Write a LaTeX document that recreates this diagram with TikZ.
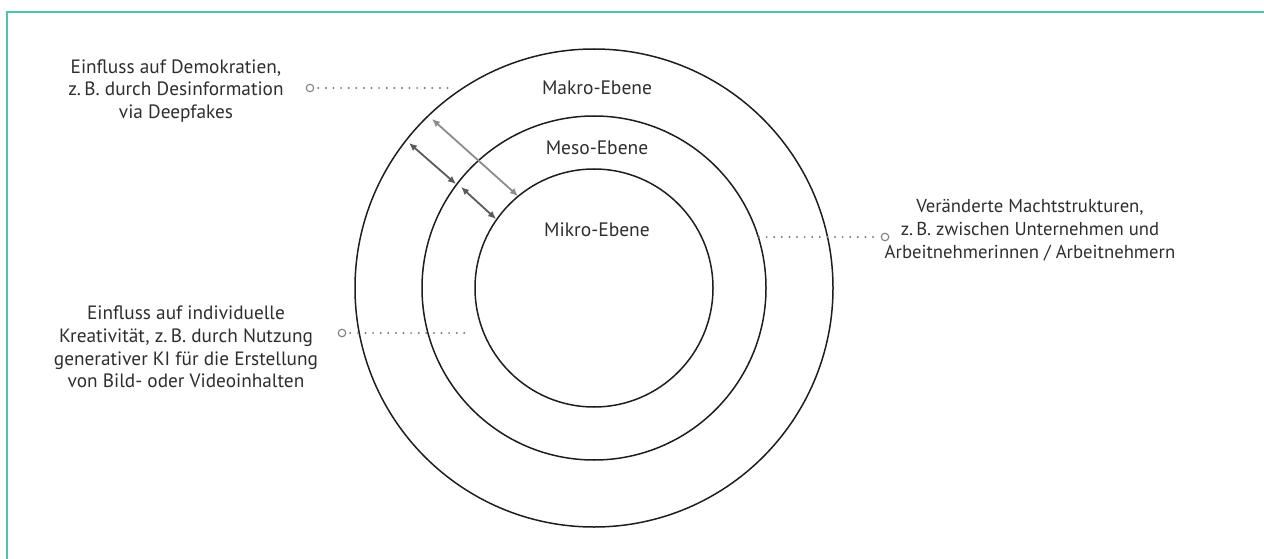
\documentclass[tikz,border=0pt]{standalone}
\usepackage{fontspec}
\setmainfont{PT Sans}
\usetikzlibrary{arrows.meta}
\definecolor{frameteal}{HTML}{4CC4B0}
\definecolor{txt}{HTML}{2E2E2E}
\definecolor{ring}{HTML}{1E1E1E}
\definecolor{lightarr}{HTML}{8C8C8C}
\definecolor{darkarr}{HTML}{5A5A5A}
\definecolor{dotgrey}{HTML}{7E7E7E}
\tikzset{
  ringline/.style={draw=ring, line width=1.5pt},
  lvl/.style={text=txt, font=\fontsize{19.5}{23}\selectfont, inner sep=0pt},
  note/.style={text=txt, align=center, font=\fontsize{19.3}{22.8}\selectfont, inner sep=0pt},
  marker/.style={circle, draw=dotgrey, fill=white, line width=1.1pt, minimum size=7.5pt, inner sep=0pt},
  dots/.style={draw=dotgrey, line width=2.2pt, line cap=round, dash pattern=on 0pt off 7.6pt},
  larr/.style={draw=lightarr, line width=1.8pt, {Latex[length=8pt,width=7pt]}-{Latex[length=8pt,width=7pt]}},
  darr/.style={draw=darkarr, line width=1.8pt, {Latex[length=8pt,width=7pt]}-{Latex[length=8pt,width=7pt]}},
}
\begin{document}
\begin{tikzpicture}[x=1pt,y=-1pt]
\useasboundingbox (0,0) rectangle (1264,559);
% frame (top and left edges visible)
\draw[frameteal, line width=2pt] (7,565) -- (7,12) -- (1270,12);
% rings
\node[ringline, circle, minimum size=478pt, inner sep=0pt] (makro) at (594,288) {};
\node[ringline, circle, minimum size=344pt, inner sep=0pt] (meso) at (594,288) {};
\node[ringline, circle, minimum size=238pt, inner sep=0pt] (mikro) at (594,288) {};
% level labels
\node[lvl] (lmakro) at (597,88) {Makro-Ebene};
\node[lvl] (lmeso) at (597,148) {Meso-Ebene};
\node[lvl] (lmikro) at (597,230) {Mikro-Ebene};
% arrows
\coordinate (a1) at (432,119);
\coordinate (a2) at (518,196);
\coordinate (b1) at (409,143);
\coordinate (b2) at (456,184);
\coordinate (c1) at (461,187);
\coordinate (c2) at (496,219);
\draw[larr] (a1) -- (a2);
\draw[darr] (b1) -- (b2);
\draw[darr] (c1) -- (c2);
% notes
\node[note] (n1) at (176,91) {Einfluss auf Demokratien,\\z.\,B. durch Desinformation\\via Deepfakes};
\node[marker] (m1) at (310,88) {};
\coordinate (e1) at (454,88);
\draw[dots] (m1.east) ++(4,0) -- (e1);

\node[note, font=\fontsize{18.7}{22.8}\selectfont] (n2) at (1030,230) {Veränderte Machtstrukturen,\\z.\,B. zwischen Unternehmen und\\Arbeitnehmerinnen / Arbeitnehmern};
\node[marker] (m2) at (885,237) {};
\coordinate (e2) at (759,237);
\draw[dots] (e2) -- ([xshift=-4pt]m2.west);

\node[note] (n3) at (186,347) {Einfluss auf individuelle\\Kreativität, z.\,B. durch Nutzung\\generativer KI für die Erstellung\\von Bild- oder Videoinhalten};
\node[marker] (m3) at (342,333) {};
\coordinate (e3) at (471,333);
\draw[dots] (m3.east) ++(4,0) -- (e3);
\end{tikzpicture}
\end{document}
